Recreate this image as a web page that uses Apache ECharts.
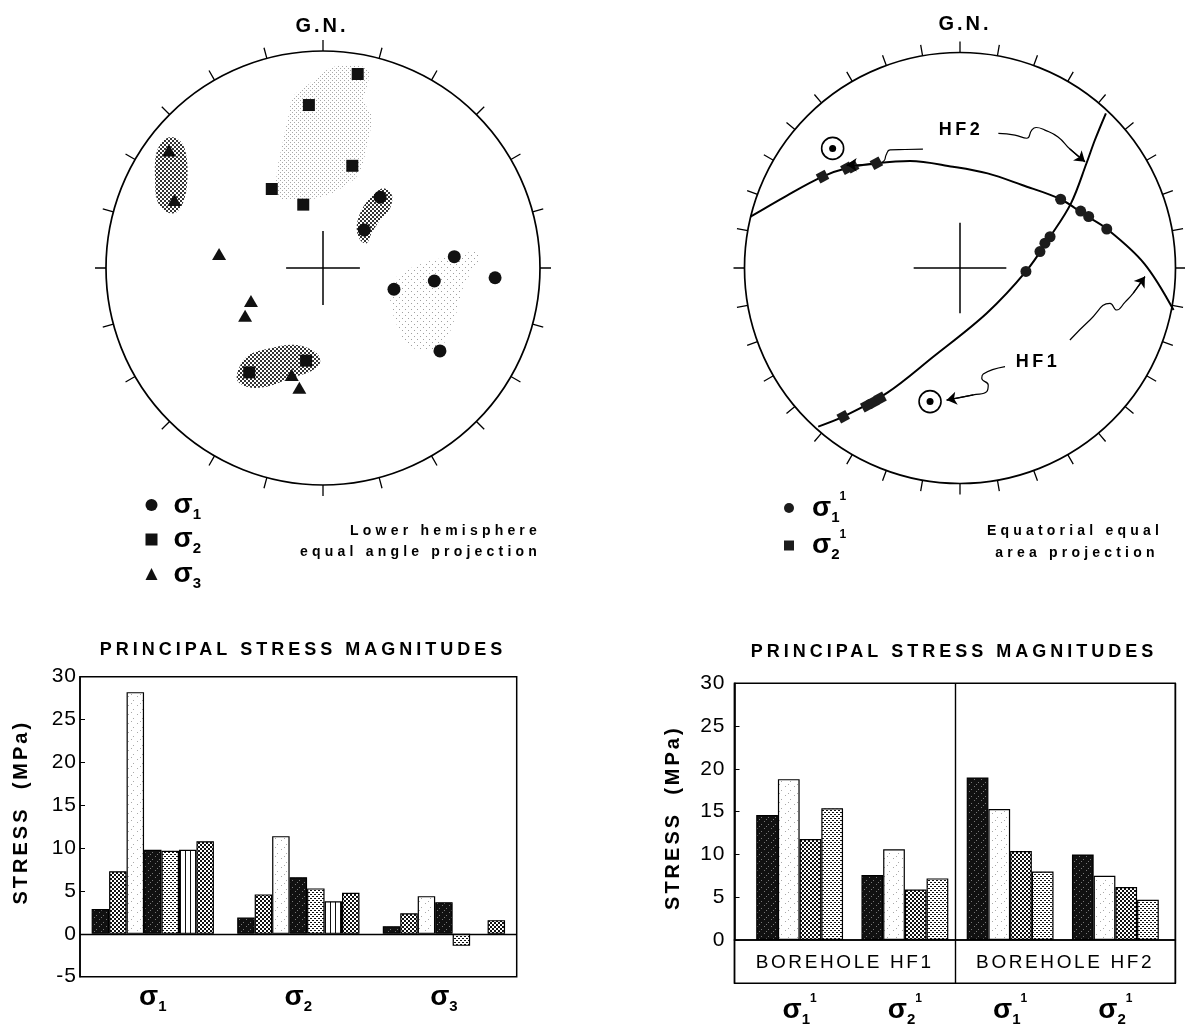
<!DOCTYPE html>
<html><head><meta charset="utf-8">
<script src="https://cdn.jsdelivr.net/npm/echarts@6.0.0/dist/echarts.min.js"></script>
<style>html,body{margin:0;padding:0;background:#fff}#c{width:1185px;height:1028px}</style>
</head><body><div id="c"></div>
<script>
// ---------------- DATA ----------------
// Left stereonet (normalized to primitive radius, x east, y north)
const NET_L_SIGMA1 = [[0.263,0.326],[0.190,0.175],[0.605,0.052],[0.513,-0.060],[0.793,-0.045],[0.327,-0.098],[0.539,-0.382]];
const NET_L_SIGMA2 = [[0.160,0.894],[-0.065,0.751],[0.135,0.471],[-0.236,0.364],[-0.091,0.292],[-0.340,-0.481],[-0.078,-0.427]];
const NET_L_SIGMA3 = [[-0.710,0.541],[-0.685,0.313],[-0.479,0.065],[-0.332,-0.152],[-0.359,-0.220],[-0.144,-0.493],[-0.109,-0.552]];
const NET_L_CROSS_H = [[-0.17,0],[0.17,0]];
const NET_L_CROSS_V = [[0,-0.17],[0,0.17]];
const REGION_SIGMA2_LIGHT = [[0.124,0.935],[0.209,0.912],[0.201,0.828],[0.186,0.774],[0.224,0.697],[0.201,0.559],[0.178,0.467],[0.140,0.406],[0.001,0.329],[-0.121,0.313],[-0.206,0.329],[-0.213,0.436],[-0.183,0.590],[-0.160,0.697],[-0.137,0.789],[-0.060,0.851],[0.032,0.920]];
const REGION_SIGMA3_WEST = [[-0.700,0.604],[-0.650,0.576],[-0.627,0.498],[-0.627,0.382],[-0.645,0.300],[-0.682,0.253],[-0.728,0.263],[-0.765,0.313],[-0.774,0.415],[-0.770,0.521],[-0.742,0.581]];
const REGION_SIGMA1_NE = [[0.278,0.367],[0.317,0.336],[0.309,0.275],[0.263,0.221],[0.224,0.160],[0.201,0.114],[0.171,0.129],[0.155,0.190],[0.178,0.267],[0.224,0.329]];
const REGION_SOUTH = [[-0.398,-0.508],[-0.352,-0.409],[-0.244,-0.370],[-0.121,-0.355],[-0.029,-0.393],[-0.014,-0.439],[-0.060,-0.478],[-0.152,-0.508],[-0.259,-0.547],[-0.352,-0.547]];
const REGION_SIGMA1_LIGHT = [[0.340,-0.040],[0.462,0.022],[0.585,0.052],[0.724,0.068],[0.647,-0.086],[0.600,-0.255],[0.539,-0.363],[0.401,-0.363],[0.332,-0.240],[0.309,-0.117]];

// Right stereonet
const GREAT_CIRCLE_A = [[-0.972,0.238],[-0.807,0.334],[-0.638,0.424],[-0.515,0.466],[-0.388,0.486],[-0.232,0.497],[-0.033,0.470],[0.128,0.439],[0.288,0.385],[0.467,0.319],[0.580,0.246],[0.684,0.180],[0.854,0.022],[0.991,-0.195]];
const GREAT_CIRCLE_B = [[0.677,0.718],[0.626,0.594],[0.587,0.486],[0.515,0.300],[0.418,0.145],[0.306,-0.016],[0.124,-0.210],[-0.124,-0.412],[-0.340,-0.581],[-0.542,-0.690],[-0.658,-0.736]];
const NET_R_SIGMA1 = [[0.467,0.319],[0.560,0.264],[0.597,0.239],[0.681,0.181],[0.418,0.145],[0.394,0.115],[0.371,0.076],[0.306,-0.016]];
const NET_R_SIGMA2 = [[-0.638,0.424],[-0.525,0.463],[-0.498,0.470],[-0.388,0.486],[-0.542,-0.690],[-0.433,-0.639],[-0.404,-0.624],[-0.371,-0.605]];
const NET_R_POLES = [[-0.591,0.555],[-0.139,-0.620]];
const NET_R_CROSS_H = [[-0.215,0],[0.215,0]];
const NET_R_CROSS_V = [[0,-0.21],[0,0.21]];
const ARROW_HF2_POLE = [[-0.172,0.552],[-0.255,0.550],[-0.325,0.548],[-0.343,0.524],[-0.353,0.497],[-0.390,0.481],[-0.450,0.479],[-0.526,0.479]];
const ARROW_HF2_PLANE = [[0.178,0.625],[0.255,0.617],[0.310,0.602],[0.333,0.640],[0.353,0.652],[0.394,0.640],[0.455,0.608],[0.510,0.552],[0.580,0.493]];
const ARROW_HF1_POLE = [[0.209,-0.458],[0.108,-0.492],[0.101,-0.512],[0.131,-0.543],[0.124,-0.574],[0.062,-0.589],[-0.062,-0.613]];
const ARROW_HF1_PLANE = [[0.510,-0.334],[0.603,-0.241],[0.696,-0.164],[0.727,-0.195],[0.766,-0.158],[0.804,-0.117],[0.858,-0.040]];

// Bar charts
const BAR_L_CATEGORIES = ['σ1','σ2','σ3'];
const BAR_L_1 = [2.9, 1.9, 0.9];
const BAR_L_2 = [7.3, 4.6, 2.4];
const BAR_L_3 = [28.2, 11.4, 4.4];
const BAR_L_4 = [9.8, 6.6, 3.7];
const BAR_L_5 = [9.7, 5.3, -1.4];
const BAR_L_6 = [9.8, 3.8, null];
const BAR_L_7 = [10.8, 4.8, 1.6];
const BAR_R_CATEGORIES = ['HF1:σ1:1','HF1:σ2:1','HF2:σ1:1','HF2:σ2:1'];
const BOREHOLES = ['BOREHOLE HF1','BOREHOLE HF2'];
const BAR_R_1 = [14.6, 7.6, 19.0, 10.0];
const BAR_R_2 = [18.8, 10.6, 15.3, 7.5];
const BAR_R_3 = [11.8, 5.9, 10.4, 6.2];
const BAR_R_4 = [15.4, 7.2, 8.0, 4.7];

// ---------------- letter spacing support (font family token spNNx = NN/10 px) ----------------
(function(){
  var P = window.CanvasRenderingContext2D && CanvasRenderingContext2D.prototype;
  if (!P || !('letterSpacing' in P)) return;
  function setLS(ctx){ var m = /sp(\d+)x/.exec(ctx.font || ''); var v = m ? (parseInt(m[1],10)/10)+'px' : '0px'; if (ctx.letterSpacing !== v) ctx.letterSpacing = v; }
  ['fillText','strokeText','measureText'].forEach(function(n){ var o = P[n]; P[n] = function(){ setLS(this); return o.apply(this, arguments); }; });
})();

// ---------------- patterns ----------------
function tile(w, h, bg, fg, px){
  const c = document.createElement('canvas'); c.width = w; c.height = h;
  const g = c.getContext('2d');
  if (bg) { g.fillStyle = bg; g.fillRect(0,0,w,h); }
  g.fillStyle = fg;
  px.forEach(p => g.fillRect(p[0], p[1], p[2] || 1, p[3] || 1));
  return {image: c, repeat: 'repeat'};
}
const PAT = {
  dark: tile(7,7,'#111','#777',[[1,2],[5,5],[3,0]]),
  cross: tile(4,4,'#fff','#111',[[0,0,2,2],[2,2,2,2]]),
  white: tile(9,9,'#fff','#aaa',[[2,3],[7,7],[5,1]]),
  dots: tile(4,4,'#fff','#111',[[0,0,2,1],[2,2,2,1]]),
  stripes: tile(5,1,'#fff','#111',[[0,0,1,1]]),
  stipple: tile(4,4,null,'#a8a8a8',[[0,0],[2,2]]),
  halftone: tile(4,4,null,'#333',[[0,0,2,2],[2,2,2,2]]),
  sparse: tile(6,6,null,'#a0a0a0',[[0,0],[3,3]])
};

// ---------------- helpers ----------------
const FONT = 'Liberation Sans';
function sigmaRich(padLeft){
  return {
    s: {fontFamily: FONT, fontSize: 28, fontWeight: 'bold', lineHeight: 34, color: '#000', padding: [0,0,0,padLeft]},
    sub: {fontFamily: FONT, fontSize: 15, fontWeight: 'bold', lineHeight: 15, verticalAlign: 'bottom', color: '#000'},
    sup: {fontFamily: FONT, fontSize: 12, fontWeight: 'bold', lineHeight: 12, verticalAlign: 'top', color: '#000'}
  };
}
function sigmaLabel(v){
  const p = v.split(':');
  if (p.length === 1) return '{s|σ}{sub|' + v.replace('σ','') + '}';
  return '{s|σ}{sub|' + p[p.length - 2].replace('σ','') + '}{sup|' + p[p.length - 1] + '}';
}
function region(pts, fill, idx){
  return {type: 'custom', coordinateSystem: 'cartesian2d', xAxisIndex: idx, yAxisIndex: idx, silent: true, z: 1,
    data: [[0,0]],
    renderItem: function(params, api){
      return {type: 'polygon', shape: {points: pts.map(p => api.coord(p)), smooth: 0.35}, style: {fill: fill, stroke: null}};
    }};
}
function pline(pts, idx, width, smooth){
  return {type: 'line', xAxisIndex: idx, yAxisIndex: idx, data: pts, symbol: 'none', smooth: smooth || 0, silent: true, z: 2,
    lineStyle: {color: '#000', width: width}};
}
function bar(name, vals, fill, idx, gap){
  return {type: 'bar', name: name, xAxisIndex: idx, yAxisIndex: idx, data: vals.map(v => v === null ? '-' : v),
    barGap: '0%', barCategoryGap: gap, silent: true,
    itemStyle: {color: fill, borderColor: '#000', borderWidth: 1.2}};
}
const ARROWS = [ARROW_HF2_POLE, ARROW_HF2_PLANE, ARROW_HF1_POLE, ARROW_HF1_PLANE];

// ---------------- layout ----------------
const NL = {cx: 323, cy: 268, r: 217};
const NR = {cx: 960, cy: 268, r: 215.5};
function netGrid(n){ return {left: n.cx - n.r, top: n.cy - n.r, width: 2*n.r, height: 2*n.r, outerBoundsMode: 'none'}; }
const angle = (idx, step) => ({polarIndex: idx, type: 'value', min: 0, max: 360, interval: step, startAngle: 90, clockwise: true,
  axisLine: {lineStyle: {color: '#000', width: 1.7}}, axisTick: {show: true, length: 11, lineStyle: {color: '#000', width: 1.3}},
  axisLabel: {show: false}, splitLine: {show: false}});
const hiddenVal = (g) => ({gridIndex: g, type: 'value', min: -1, max: 1, show: false});
const yLabelStyle = {fontFamily: FONT + ', sp10x', fontSize: 21, color: '#000'};
const yNameStyle = {fontFamily: FONT + ', sp30x', fontSize: 20, fontWeight: 'bold', color: '#000'};
const blackLine = {color: '#000', width: 1.4};

function txt(x, y, text, size, weight, sp, align){
  return {type: 'text', x: x, y: y, silent: true, style: {text: text, fontFamily: FONT + ', sp' + sp + 'x', fontSize: size,
    fontWeight: weight, fill: '#000', align: align || 'center', verticalAlign: 'middle'}};
}

const option = {
  animation: false,
  backgroundColor: '#fff',
  textStyle: {fontFamily: FONT, color: '#000'},
  polar: [{center: [NL.cx, NL.cy], radius: NL.r}, {center: [NR.cx, NR.cy], radius: NR.r}],
  angleAxis: [angle(0, 15), angle(1, 10)],
  radiusAxis: [{polarIndex: 0, min: 0, max: 1, show: false}, {polarIndex: 1, min: 0, max: 1, show: false}],
  grid: [
    netGrid(NL), netGrid(NR),
    {left: 80, top: 676.7, width: 436.7, height: 300, show: true, borderColor: '#000', borderWidth: 1.5, outerBoundsMode: 'none'},
    {left: 734.5, top: 683.3, width: 440.8, height: 256.7, show: true, borderColor: '#000', borderWidth: 1.5, outerBoundsMode: 'none'},
    {left: 747, top: 683.3, width: 421, height: 256.7, outerBoundsMode: 'none'},
    {left: 734.5, top: 940, width: 440.8, height: 43.3, show: true, borderColor: '#000', borderWidth: 1.5, outerBoundsMode: 'none'}
  ],
  xAxis: [
    hiddenVal(0), hiddenVal(1),
    {gridIndex: 2, type: 'category', data: BAR_L_CATEGORIES, axisLine: {show: false, onZero: false}, axisTick: {show: false},
      axisLabel: {interval: 0, margin: 4, formatter: sigmaLabel, rich: sigmaRich(0)}},
    {gridIndex: 3, type: 'category', data: BOREHOLES, axisLine: {show: false, onZero: false}, axisTick: {show: false},
      splitLine: {show: true, interval: 0, lineStyle: blackLine},
      axisLabel: {interval: 0, margin: 12, fontFamily: FONT + ', sp26x', fontSize: 19, color: '#000'}},
    {gridIndex: 4, type: 'category', data: BAR_R_CATEGORIES, axisLine: {show: false, onZero: false}, axisTick: {show: false},
      axisLabel: {interval: 0, margin: 53, formatter: sigmaLabel, rich: sigmaRich(0)}},
    {gridIndex: 5, type: 'category', data: BOREHOLES, axisLine: {show: false, onZero: false}, axisTick: {show: false},
      splitLine: {show: true, interval: 0, lineStyle: blackLine}, axisLabel: {show: false}}
  ],
  yAxis: [
    hiddenVal(0), hiddenVal(1),
    {gridIndex: 2, type: 'value', min: -5, max: 30, interval: 5, axisLine: {show: true, onZero: false, lineStyle: {color: '#000', width: 1.5}},
      axisTick: {show: true, inside: true, length: 5, lineStyle: {color: '#000'}}, splitLine: {show: false},
      axisLabel: Object.assign({margin: 3}, yLabelStyle),
      name: 'STRESS  (MPa)', nameLocation: 'middle', nameGap: 47, nameRotate: 90,
      nameTextStyle: Object.assign({padding: [0, 0, 0, 29]}, yNameStyle)},
    {gridIndex: 3, type: 'value', min: 0, max: 30, interval: 5, axisLine: {show: true, onZero: false, lineStyle: {color: '#000', width: 1.5}},
      axisTick: {show: true, inside: true, length: 5, lineStyle: {color: '#000'}}, splitLine: {show: false},
      axisLabel: Object.assign({margin: 9}, yLabelStyle),
      name: 'STRESS  (MPa)', nameLocation: 'middle', nameGap: 50, nameRotate: 90,
      nameTextStyle: Object.assign({padding: [0, 12, 0, 0]}, yNameStyle)},
    {gridIndex: 4, type: 'value', min: 0, max: 30, show: false},
    {gridIndex: 5, type: 'value', min: 0, max: 1, show: false}
  ],
  legend: [
    {data: ['σ1','σ2','σ3'], orient: 'vertical', left: 140.5, top: 486, itemGap: 3.5, itemWidth: 12, itemHeight: 12,
      selectedMode: false, formatter: sigmaLabel, textStyle: {rich: sigmaRich(11)}},
    {data: ['σ1:1','σ2:1'], orient: 'vertical', left: 779, top: 486, itemGap: 3.5, itemWidth: 10, itemHeight: 10,
      selectedMode: false, formatter: sigmaLabel, textStyle: {rich: sigmaRich(13)}}
  ],
  graphic: [
    txt(322, 26, 'G.N.', 20, 'bold', 30),
    txt(965, 24, 'G.N.', 20, 'bold', 30),
    txt(541, 531, 'Lower hemisphere', 14, 'bold', 42, 'right'),
    txt(541, 552, 'equal angle projection', 14, 'bold', 42, 'right'),
    txt(1075, 531, 'Equatorial equal', 14, 'bold', 42),
    txt(1077, 553, 'area projection', 14, 'bold', 42),
    txt(961, 130, 'HF2', 18, 'bold', 35),
    txt(1038, 362, 'HF1', 18, 'bold', 35),
    txt(303, 650, 'PRINCIPAL STRESS MAGNITUDES', 18, 'bold', 40),
    txt(954, 652, 'PRINCIPAL STRESS MAGNITUDES', 18, 'bold', 40)
  ],
  series: [
    // ----- left stereonet -----
    region(REGION_SIGMA2_LIGHT, PAT.stipple, 0),
    region(REGION_SIGMA1_LIGHT, PAT.sparse, 0),
    region(REGION_SIGMA3_WEST, PAT.halftone, 0),
    region(REGION_SIGMA1_NE, PAT.halftone, 0),
    region(REGION_SOUTH, PAT.halftone, 0),
    pline(NET_L_CROSS_H, 0, 1.5), pline(NET_L_CROSS_V, 0, 1.5),
    {type: 'scatter', name: 'σ1', xAxisIndex: 0, yAxisIndex: 0, data: NET_L_SIGMA1, symbol: 'circle', symbolSize: 13, z: 3, silent: true,
      itemStyle: {color: '#111', opacity: 1}},
    {type: 'scatter', name: 'σ2', xAxisIndex: 0, yAxisIndex: 0, data: NET_L_SIGMA2, symbol: 'rect', symbolSize: 12, z: 3, silent: true,
      itemStyle: {color: '#111', opacity: 1}},
    {type: 'scatter', name: 'σ3', xAxisIndex: 0, yAxisIndex: 0, data: NET_L_SIGMA3, symbol: 'triangle', symbolSize: [14, 12], z: 3, silent: true,
      itemStyle: {color: '#111', opacity: 1}},
    // ----- right stereonet -----
    pline(GREAT_CIRCLE_A, 1, 2, 0.35), pline(GREAT_CIRCLE_B, 1, 2, 0.35),
    pline(NET_R_CROSS_H, 1, 1.5), pline(NET_R_CROSS_V, 1, 1.5),
    {type: 'scatter', name: 'σ1:1', xAxisIndex: 1, yAxisIndex: 1, data: NET_R_SIGMA1, symbol: 'circle', symbolSize: 11, z: 3, silent: true,
      itemStyle: {color: '#1c1c1c', opacity: 1}},
    {type: 'scatter', name: 'σ2:1', xAxisIndex: 1, yAxisIndex: 1, data: NET_R_SIGMA2, symbol: 'rect', symbolSize: 10, symbolRotate: 28, z: 3, silent: true,
      itemStyle: {color: '#1c1c1c', opacity: 1}},
    {type: 'scatter', xAxisIndex: 1, yAxisIndex: 1, data: NET_R_POLES, symbol: 'circle', symbolSize: 22, z: 3, silent: true,
      itemStyle: {color: '#fff', borderColor: '#000', borderWidth: 1.6, opacity: 1}},
    {type: 'scatter', xAxisIndex: 1, yAxisIndex: 1, data: NET_R_POLES, symbol: 'circle', symbolSize: 7, z: 4, silent: true,
      itemStyle: {color: '#000', opacity: 1}},
    ...ARROWS.map(a => pline(a, 1, 1.2, 0.5)),
    {type: 'lines', coordinateSystem: 'cartesian2d', xAxisIndex: 1, yAxisIndex: 1, polyline: false, silent: true, z: 4,
      data: ARROWS.map(a => ({coords: [a[a.length - 2], a[a.length - 1]]})),
      symbol: ['none', 'arrow'], symbolSize: 10, lineStyle: {color: '#000', width: 1.2, opacity: 1}},
    // ----- left bars -----
    Object.assign(bar('L1', BAR_L_1, PAT.dark, 2, '16%'), {markLine: {silent: true, symbol: 'none', label: {show: false},
      lineStyle: {color: '#000', type: 'solid', width: 1.4}, data: [{yAxis: 0}]}}),
    bar('L2', BAR_L_2, PAT.cross, 2, '16%'),
    bar('L3', BAR_L_3, PAT.white, 2, '16%'),
    bar('L4', BAR_L_4, PAT.dark, 2, '16%'),
    bar('L5', BAR_L_5, PAT.dots, 2, '16%'),
    bar('L6', BAR_L_6, PAT.stripes, 2, '16%'),
    bar('L7', BAR_L_7, PAT.cross, 2, '16%'),
    // ----- right bars -----
    bar('R1', BAR_R_1, PAT.dark, 4, '17.5%'),
    bar('R2', BAR_R_2, PAT.white, 4, '17.5%'),
    bar('R3', BAR_R_3, PAT.cross, 4, '17.5%'),
    bar('R4', BAR_R_4, PAT.dots, 4, '17.5%')
  ]
};
const chart = echarts.init(document.getElementById('c'), null, {renderer: 'canvas'});
chart.setOption(option);
</script></body></html>
